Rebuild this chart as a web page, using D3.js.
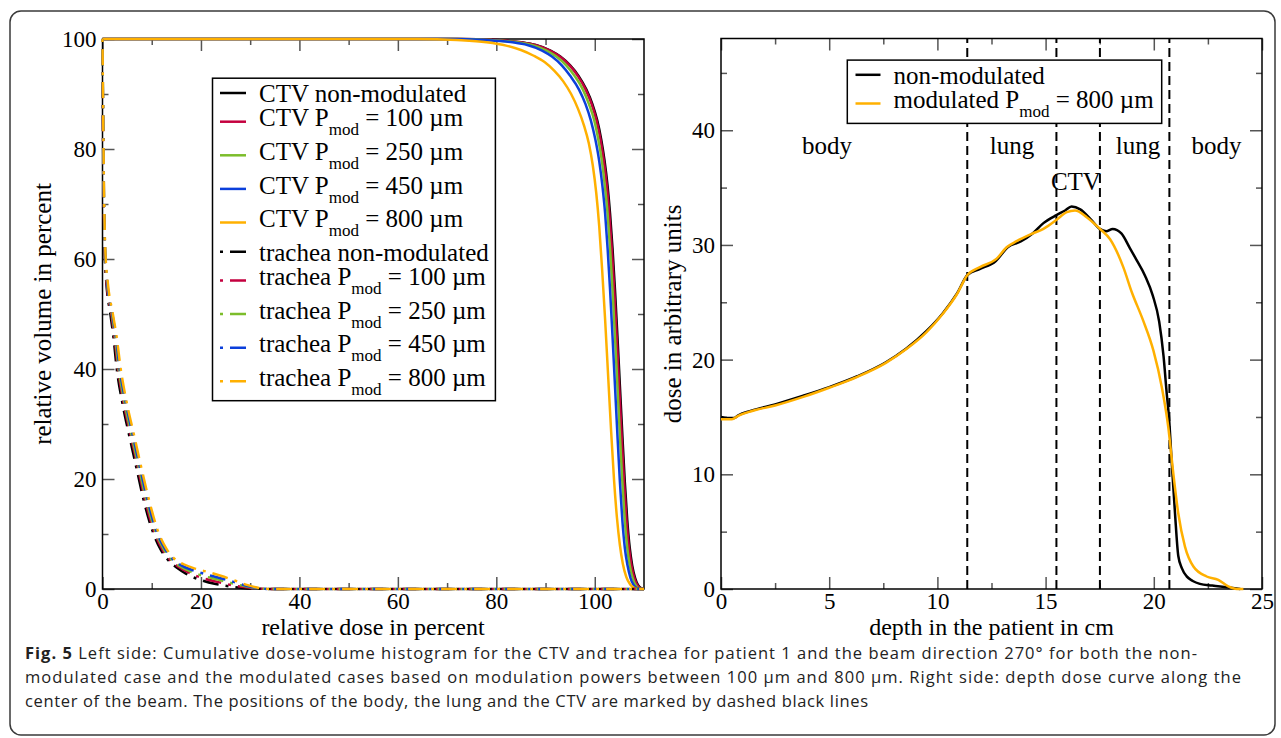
<!DOCTYPE html>
<html><head><meta charset="utf-8">
<script src="https://cdn.jsdelivr.net/npm/d3@7"></script>
<style>body{margin:0;background:#fff} svg{display:block}</style>
</head><body><svg id="c" width="1281" height="738"></svg>
<script>
// ---------- LEFT: cumulative DVH (x: relative dose %, y: relative volume %) ----------
const ctvNon  = [[0,100],[72,100],[80,99.8],[85,99.4],[88,98.9],[91,97.9],[93,96.8],[95,95.2],[96.7,93.3],[98.3,90.8],[99.5,88.2],[100.5,85.2],[101.3,81.8],[102,77.8],[102.6,73.3],[103.1,68.3],[103.6,62],[104.1,54.5],[104.6,46],[105.1,37],[105.6,28],[106.1,19.5],[106.6,12.5],[107.1,7.5],[107.6,4.3],[108.2,2],[108.8,0.7],[109.4,0.15],[110,0]];
const ctvP100 = [[0,100],[72,100],[80,99.8],[85,99.4],[87.9,98.9],[90.9,97.9],[92.9,96.8],[94.9,95.2],[96.55,93.3],[98.15,90.8],[99.35,88.2],[100.35,85.2],[101.15,81.8],[101.85,77.8],[102.45,73.3],[102.95,68.3],[103.45,62],[103.95,54.5],[104.45,46],[104.95,37],[105.45,28],[105.95,19.5],[106.45,12.5],[106.95,7.5],[107.45,4.3],[108.05,2],[108.65,0.7],[109.25,0.15],[109.9,0]];
const ctvP250 = [[0,100],[71,100],[79,99.8],[84.2,99.4],[87.2,98.9],[90.2,97.9],[92.2,96.8],[94.2,95.2],[95.9,93.3],[97.6,90.8],[98.8,88.2],[99.9,85.2],[100.7,81.8],[101.45,77.8],[102.05,73.3],[102.6,68.3],[103.1,62],[103.6,54.5],[104.1,46],[104.6,37],[105.1,28],[105.6,19.5],[106.1,12.5],[106.6,7.5],[107.1,4.3],[107.7,2],[108.3,0.7],[108.9,0.15],[109.7,0]];
const ctvP450 = [[0,100],[70,100],[78,99.8],[83.3,99.4],[86.3,98.9],[89.3,97.9],[91.3,96.8],[93.3,95.2],[95,93.3],[96.8,90.8],[98.1,88.2],[99.2,85.2],[100.1,81.8],[100.9,77.8],[101.55,73.3],[102.1,68.3],[102.6,62],[103.1,54.5],[103.6,46],[104.1,37],[104.6,28],[105.1,19.5],[105.6,12.5],[106.1,7.5],[106.65,4.3],[107.25,2],[107.9,0.7],[108.6,0.15],[109.4,0]];
const ctvP800 = [[0,100],[64,100],[72,99.8],[78,99.4],[82,98.8],[85,98.0],[87.5,97],[89.8,95.8],[91.8,94.2],[93.6,92.3],[95.2,90],[96.6,87.3],[97.8,84.3],[98.8,81],[99.6,77],[100.3,72],[100.9,66],[101.5,58],[102.1,49],[102.7,39],[103.3,29],[103.9,20],[104.5,13],[105.1,8],[105.7,4.6],[106.4,2.2],[107.2,0.8],[108,0.2],[109,0]];

const trNon  = [[0,100],[0.1,85],[0.25,70],[0.45,61],[0.8,55.5],[1.6,50],[2.2,46],[2.9,40],[4.0,34],[5.4,28],[6.9,22],[8.4,16],[10.3,10.2],[11.8,7.2],[13.4,5.2],[15.2,3.8],[17.1,2.7],[20.4,1.5],[23,0.9],[26,0.45],[29,0.15],[32,0.03],[34,0],[110,0]];
const trP100 = [[0,100],[0.1,85],[0.27,70],[0.5,61],[0.85,55.5],[1.8,50],[2.4,46],[3.15,40],[4.25,34],[5.7,28],[7.2,22],[8.7,16],[10.6,10.2],[12.1,7.3],[13.7,5.3],[15.5,4.0],[17.5,3.0],[20.6,1.9],[23.3,1.3],[26.3,0.7],[29.2,0.3],[32,0.06],[34,0],[110,0]];
const trP250 = [[0,100],[0.12,85],[0.3,70],[0.53,61],[0.95,55.5],[1.9,50],[2.55,46],[3.3,40],[4.45,34],[5.9,28],[7.4,22],[8.95,16],[10.85,10.2],[12.4,7.3],[14,5.35],[15.8,4.1],[17.8,3.2],[20.8,2.3],[23.5,1.7],[26.5,1.0],[29.3,0.45],[32,0.1],[34,0],[110,0]];
const trP450 = [[0,100],[0.13,85],[0.32,70],[0.56,61],[1.0,55.5],[2.0,50],[2.7,46],[3.5,40],[4.7,34],[6.15,28],[7.65,22],[9.2,16],[11.1,10.2],[12.7,7.3],[14.3,5.4],[16.1,4.25],[18.1,3.5],[20.9,2.7],[23.8,2.0],[26.8,1.25],[29.4,0.55],[32,0.12],[34,0],[110,0]];
const trP800 = [[0,100],[0.15,85],[0.35,70],[0.6,61],[1.1,55.5],[2.1,50],[2.85,46],[3.7,40],[4.9,34],[6.4,28],[7.9,22],[9.5,16],[11.4,10.2],[13,7.3],[14.6,5.5],[16.5,4.5],[18.5,3.8],[21,3.2],[24,2.4],[27,1.5],[29.5,0.7],[32,0.15],[34,0],[110,0]];

const leftLabels = ["CTV non-modulated","CTV P|100","CTV P|250","CTV P|450","CTV P|800",
                    "trachea non-modulated","trachea P|100","trachea P|250","trachea P|450","trachea P|800"];
const seriesColors = ["#000000","#c4003f","#7cbd2b","#0b3fdb","#ffb000"];

const leftXTicks = [0,20,40,60,80,100];
const leftXMinor = [10,30,50,70,90];
const leftYTicks = [0,20,40,60,80,100];
const leftYMinor = [10,30,50,70,90];

// ---------- RIGHT: depth dose ----------
const doseNon = [[0,15.0],[0.3,14.9],[0.6,14.9],[0.8,15.15],[1.4,15.55],[2.5,16.1],[3.8,16.85],[5,17.6],[6.3,18.55],[7.6,19.75],[8.55,20.95],[9.5,22.5],[10.25,24.05],[10.9,25.75],[11.4,27.4],[11.95,27.9],[12.7,28.6],[13.25,29.8],[13.85,30.3],[14.4,31.0],[14.9,31.9],[15.5,32.6],[15.9,33.0],[16.2,33.35],[16.6,33.1],[17.1,32.2],[17.5,31.4],[17.8,31.2],[18.1,31.4],[18.5,31.0],[18.9,29.7],[19.2,28.7],[19.6,27.3],[19.95,25.6],[20.25,23.3],[20.45,20.3],[20.6,17],[20.7,15.0],[20.83,11],[20.98,6.6],[21.13,2.9],[21.3,1.8],[21.52,1.1],[21.8,0.7],[22.13,0.45],[22.7,0.3],[23.4,0.15],[24,0]];
const doseMod = [[0,14.8],[0.5,14.8],[0.8,15.1],[1.4,15.5],[2.5,16.0],[3.8,16.75],[5,17.55],[6.3,18.5],[7.6,19.7],[8.55,20.9],[9.5,22.4],[10.25,24.0],[10.9,25.7],[11.38,27.35],[11.97,28.07],[12.74,28.8],[13.2,29.8],[13.66,30.33],[14.36,30.97],[14.9,31.4],[15.51,32.19],[15.98,32.86],[16.36,33.0],[16.9,32.42],[17.51,31.4],[17.98,30.5],[18.59,28.07],[18.98,25.9],[19.51,23.4],[19.98,20.8],[20.37,17.6],[20.67,14.1],[20.9,10.1],[21.13,6.6],[21.44,3.7],[21.83,1.96],[22.44,1.09],[22.98,0.8],[23.44,0.22],[23.83,0],[24.14,0]];
const rightLabels = ["non-modulated","modulated P|800"];
const boundaries = [11.38,15.5,17.51,20.72];
const regionNames = ["body","lung","lung","body","CTV"];
const regionDepth = [4.9,13.45,19.27,22.9,16.4];
const regionDose  = [37.9,37.9,37.9,37.9,34.8];

const rightXTicks = [0,5,10,15,20,25];
const rightXMinor = [2.5,7.5,12.5,17.5,22.5];
const rightYTicks = [0,10,20,30,40];
const rightYMinor = [5,15,25,35,45];

// ---------- drawing ----------
const SERIF = "'Liberation Serif','Times New Roman',serif";
const svg = d3.select("#c");
svg.append("rect").attr("width",1281).attr("height",738).attr("fill","#fff");
svg.append("rect").attr("x",10).attr("y",11).attr("width",1265).attr("height",724)
   .attr("rx",11).attr("fill","none").attr("stroke","#3a3a3a").attr("stroke-width",1.5);

function axes(x, y, xT, xM, yT, yM) {
  const g = svg.append("g");
  const [x0,x1] = x.range(), [y0,y1] = y.range();
  const add = (ax, tr) => g.append("g").attr("transform", tr).call(ax);
  add(d3.axisBottom(x).tickValues(xT).tickSize(-12).tickPadding(4).tickFormat(d3.format("d")), `translate(0,${y0})`);
  add(d3.axisBottom(x).tickValues(xM).tickSize(-6).tickFormat(""), `translate(0,${y0})`);
  add(d3.axisTop(x).tickValues(xT).tickSize(-12).tickFormat(""), `translate(0,${y1})`);
  add(d3.axisTop(x).tickValues(xM).tickSize(-6).tickFormat(""), `translate(0,${y1})`);
  add(d3.axisLeft(y).tickValues(yT).tickSize(-12).tickPadding(6).tickFormat(d3.format("d")), `translate(${x0},0)`);
  add(d3.axisLeft(y).tickValues(yM).tickSize(-6).tickFormat(""), `translate(${x0},0)`);
  add(d3.axisRight(y).tickValues(yT).tickSize(-12).tickFormat(""), `translate(${x1},0)`);
  add(d3.axisRight(y).tickValues(yM).tickSize(-6).tickFormat(""), `translate(${x1},0)`);
  g.selectAll(".domain").remove();
  g.selectAll(".tick line").attr("stroke","#555").attr("stroke-width",1.5);
  g.selectAll("g").attr("font-family",SERIF).attr("font-size",23);
  svg.append("rect").attr("x",x0).attr("y",y1).attr("width",x1-x0).attr("height",y0-y1)
     .attr("fill","none").attr("stroke","#000").attr("stroke-width",1.5);
}

function legend(labels, colors, dashed, box, lineX, textX, firstBase) {
  const g = svg.append("g");
  g.append("rect").attr("x",box[0]).attr("y",box[1]).attr("width",box[2]-box[0]).attr("height",box[3]-box[1])
   .attr("fill","#fff").attr("stroke","#000").attr("stroke-width",1.5);
  let base = firstBase;
  labels.forEach((lab, i) => {
    const parts = lab.split("|");
    const sub = parts.length > 1;
    const ly = base - (sub ? 4.7 : 9);
    g.append("line").attr("x1",lineX[0]).attr("x2",lineX[1]).attr("y1",ly).attr("y2",ly)
     .attr("stroke",colors[i]).attr("stroke-width",2.5)
     .attr("stroke-dasharray", dashed[i] ? "3,7,16,7" : null);
    const t = g.append("text").attr("x",textX).attr("y",base).attr("font-family",SERIF).attr("font-size",25).attr("fill","#000");
    t.append("tspan").text(parts[0]);
    if (sub) {
      t.append("tspan").attr("font-size",17).attr("dy",9).text("mod");
      t.append("tspan").attr("dy",-9).text(" = " + parts[1] + " \u00b5m");
    }
    base += sub ? 33.6 : 24.4;
  });
}

// Left panel
const xL = d3.scaleLinear().domain([0,110]).range([102.5,644]);
const yL = d3.scaleLinear().domain([0,100]).range([589,39]);
axes(xL, yL, leftXTicks, leftXMinor, leftYTicks, leftYMinor);
const lineL = d3.line().x(d=>xL(d[0])).y(d=>yL(d[1])).curve(d3.curveMonotoneX);
const ctvAll = [ctvNon, ctvP100, ctvP250, ctvP450, ctvP800];
const trAll = [trNon, trP100, trP250, trP450, trP800];
ctvAll.forEach((s,i)=> svg.append("path").attr("d",lineL(s)).attr("fill","none")
   .attr("stroke",seriesColors[i]).attr("stroke-width",2.5));
trAll.forEach((s,i)=> svg.append("path").attr("d",lineL(s)).attr("fill","none")
   .attr("stroke",seriesColors[i]).attr("stroke-width",2.5).attr("stroke-dasharray","3,7,16,7"));
legend(leftLabels, seriesColors.concat(seriesColors), [0,0,0,0,0,1,1,1,1,1],
       [212.5,78.2,495.4,400.7], [220,246], 259, 102);
svg.append("text").attr("x",373).attr("y",635).attr("text-anchor","middle")
   .attr("font-family",SERIF).attr("font-size",24).text("relative dose in percent");
svg.append("text").attr("transform","translate(51,314) rotate(-90)").attr("text-anchor","middle")
   .attr("font-family",SERIF).attr("font-size",25).text("relative volume in percent");

// Right panel
const xR = d3.scaleLinear().domain([0,25]).range([721,1262]);
const yR = d3.scaleLinear().domain([0,48]).range([589,38.5]);
axes(xR, yR, rightXTicks, rightXMinor, rightYTicks, rightYMinor);
boundaries.forEach(b => svg.append("line").attr("x1",xR(b)).attr("x2",xR(b)).attr("y1",yR(0)).attr("y2",yR(48))
   .attr("stroke","#000").attr("stroke-width",2).attr("stroke-dasharray","9,5"));
regionNames.forEach((n,i)=> svg.append("text").attr("x",xR(regionDepth[i])).attr("y",yR(regionDose[i]))
   .attr("text-anchor","middle").attr("font-family",SERIF).attr("font-size",25).text(n));
const lineR = d3.line().x(d=>xR(d[0])).y(d=>yR(d[1])).curve(d3.curveMonotoneX);
[doseNon, doseMod].forEach((s,i)=> svg.append("path").attr("d",lineR(s)).attr("fill","none")
   .attr("stroke",[seriesColors[0],seriesColors[4]][i]).attr("stroke-width",2.5));
legend(rightLabels, [seriesColors[0],seriesColors[4]], [0,0], [847.3,60.1,1161.7,123.4], [855.5,880.5], 893.5, 83.8);
svg.append("text").attr("x",991.5).attr("y",635).attr("text-anchor","middle")
   .attr("font-family",SERIF).attr("font-size",24).text("depth in the patient in cm");
svg.append("text").attr("transform","translate(681,314) rotate(-90)").attr("text-anchor","middle")
   .attr("font-family",SERIF).attr("font-size",25).text("dose in arbitrary units");

// Caption
const capFont = "'Open Sans','Noto Sans',sans-serif";
const cap = [
  ["Fig. 5 ", "Left side: Cumulative dose-volume histogram for the CTV and trachea for patient 1 and the beam direction 270\u00b0 for both the non-", 1172],
  ["", "modulated case and the modulated cases based on modulation powers between 100 \u00b5m and 800 \u00b5m. Right side: depth dose curve along the", 1216],
  ["", "center of the beam. The positions of the body, the lung and the CTV are marked by dashed black lines", 843]
];
cap.forEach((c,i)=>{
  const t = svg.append("text").attr("x",25).attr("y",658.5+24.3*i).attr("font-family",capFont)
    .attr("font-size",16.5).attr("fill","#222").attr("textLength",c[2]).attr("lengthAdjust","spacing");
  if (c[0]) t.append("tspan").attr("font-weight","bold").text(c[0]);
  t.append("tspan").text(c[1]);
});
</script></body></html>
